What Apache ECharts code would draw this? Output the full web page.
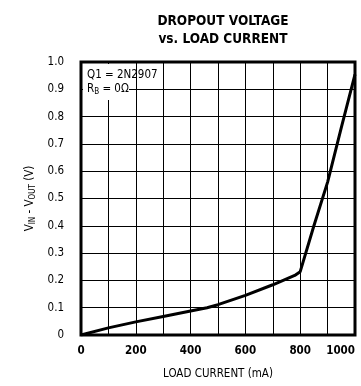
<!DOCTYPE html>
<html><head><meta charset="utf-8">
<script src="https://cdn.jsdelivr.net/npm/echarts@6/dist/echarts.min.js"></script>
<style>html,body{margin:0;padding:0;background:#fff}#c{width:361px;height:386px}</style>
</head><body><div id="c"></div>
<script>
const loadCurrent = [0, 100, 200, 300, 400, 460, 500, 600, 700, 780, 800, 850, 900, 950, 1000];
const dropoutV   = [0, 0.026, 0.048, 0.068, 0.088, 0.100, 0.111, 0.145, 0.184, 0.218, 0.232, 0.40, 0.56, 0.76, 0.955];
const xTicks = ['0', '200', '400', '600', '800', '1000'];
const yTicks = ['0', '0.1', '0.2', '0.3', '0.4', '0.5', '0.6', '0.7', '0.8', '0.9', '1.0'];
const titleLines = ['DROPOUT VOLTAGE', 'vs. LOAD CURRENT'];
const noteLines = ['Q1 = 2N2907', '{r|R}{s|B}{r| = 0Ω}'];

const FONT = '"DejaVu Sans Condensed", "Liberation Sans Narrow", sans-serif';
const chart = echarts.init(document.getElementById('c'));
chart.setOption({
  animation: false,
  title: {
    text: titleLines.join('\n'), left: 218, top: 7, textAlign: 'center',
    textStyle: { fontFamily: '"DejaVu Sans Condensed", sans-serif', fontWeight: 900, fontSize: 13.5, color: '#000', lineHeight: 18 }
  },
  grid: { left: 81, right: 6, top: 62, bottom: 51, show: true, borderColor: '#000', borderWidth: 3,
    containLabel: false, outerBoundsMode: 'none' },
  xAxis: {
    type: 'value', min: 0, max: 1000, interval: 100,
    name: 'LOAD CURRENT (mA)', nameLocation: 'middle', nameGap: 33,
    nameTextStyle: { fontFamily: FONT, fontSize: 11.5, color: '#000' },
    axisLine: { show: false }, axisTick: { show: false },
    axisLabel: { margin: 10, fontFamily: FONT, fontSize: 11.5, fontWeight: 'bold', color: '#000',
      alignMaxLabel: 'right',
      formatter: v => (v % 200 === 0 ? xTicks[v / 200] : '') },
    splitLine: { show: true, lineStyle: { color: '#000', width: 1 } }
  },
  yAxis: {
    type: 'value', min: 0, max: 1, interval: 0.1,
    name: '{v|V}{s|IN}{v| - V}{s|OUT}{v| (V)}', nameLocation: 'middle', nameGap: 40, nameRotate: 90,
    nameTextStyle: { rich: {
      v: { fontFamily: FONT, fontSize: 11.5, color: '#000' },
      s: { fontFamily: FONT, fontSize: 8, color: '#000', padding: [6, 0, 0, 0] } } },
    axisLine: { show: false }, axisTick: { show: false },
    axisLabel: { margin: 17, fontFamily: FONT, fontSize: 11.5, color: '#000',
      formatter: v => yTicks[Math.round(v * 10)] },
    splitLine: { show: true, lineStyle: { color: '#000', width: 1 } }
  },
  graphic: [
    { type: 'rect', left: 83, top: 64, shape: { width: 46, height: 36 }, style: { fill: '#fff' }, z: 10 },
    { type: 'text', left: 87, top: 69, z: 11, style: { text: noteLines[0], font: '11.5px ' + FONT, fill: '#000' } },
    { type: 'text', left: 87, top: 83, z: 11, style: { text: noteLines[1], fill: '#000',
      rich: { r: { fontFamily: FONT, fontSize: 11.5, fill: '#000' }, s: { fontFamily: FONT, fontSize: 8, fill: '#000', padding: [5, 0, 0, 0] } } } }
  ],
  series: [{
    type: 'line', data: loadCurrent.map((x, i) => [x, dropoutV[i]]),
    showSymbol: false, smooth: false, lineStyle: { color: '#000', width: 3 }, z: 5, clip: true
  }]
});
</script></body></html>
